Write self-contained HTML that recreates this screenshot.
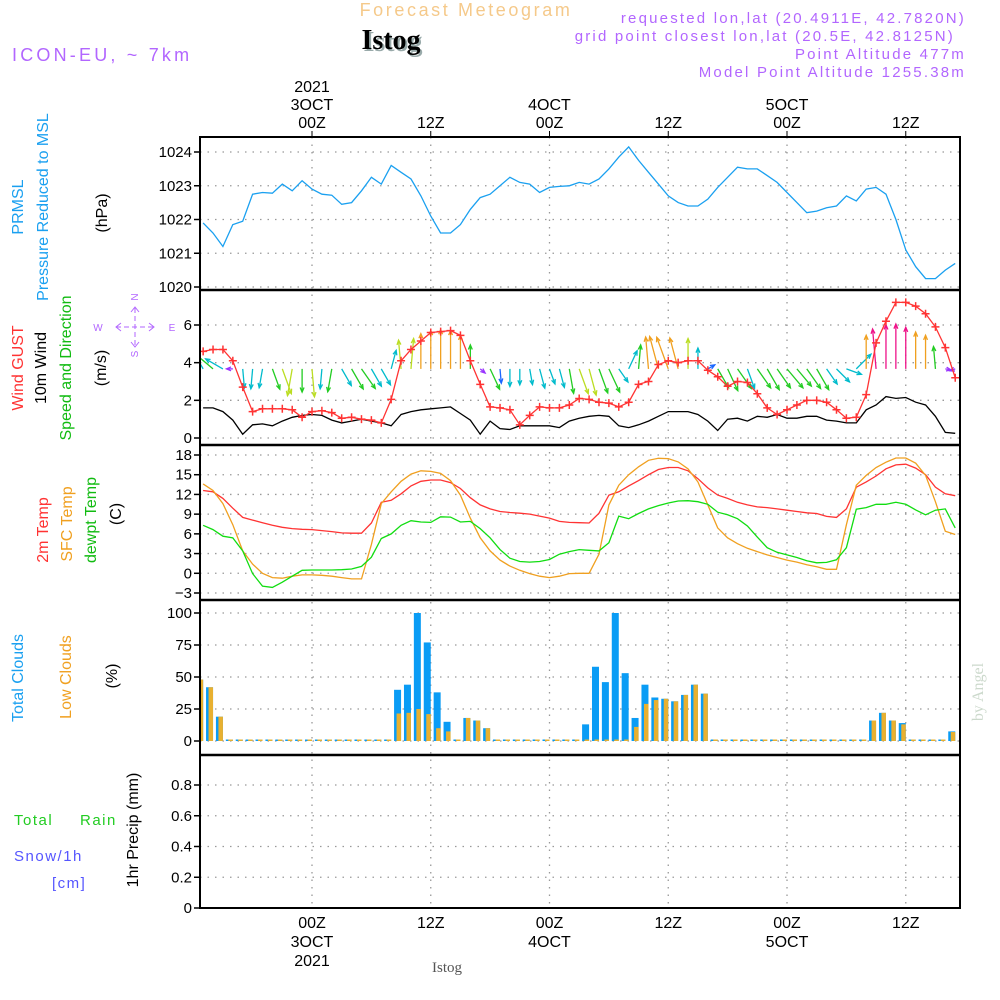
<!DOCTYPE html>
<html><head><meta charset="utf-8"><style>
html,body{margin:0;padding:0;background:#fff;}
svg{display:block;font-family:"Liberation Sans",sans-serif;}
</style></head><body>
<svg id="chart" width="1000" height="1000" viewBox="0 0 1000 1000" xmlns="http://www.w3.org/2000/svg">
<defs><clipPath id="plotclip"><rect x="201" y="137" width="758" height="771"/></clipPath></defs>
<g>
<text x="466" y="16" text-anchor="middle" font-size="18" fill="#f5c98a" letter-spacing="2.6">Forecast Meteogram</text>
<text x="393" y="51" text-anchor="middle" font-size="28" font-weight="bold" font-family="Liberation Serif,serif" fill="#9aa">Istog</text>
<text x="391" y="49" text-anchor="middle" font-size="28" font-weight="bold" font-family="Liberation Serif,serif" fill="#000">Istog</text>
<text x="12" y="61" font-size="18" fill="#b266ff" letter-spacing="3.2">ICON-EU, ~ 7km</text>
<g font-size="15" fill="#b266ff" text-anchor="end" letter-spacing="2.2">
<text x="966" y="23">requested lon,lat (20.4911E, 42.7820N)</text>
<text x="955" y="41">grid point closest lon,lat (20.5E, 42.8125N)</text>
<text x="966" y="59">Point Altitude 477m</text>
<text x="966" y="77">Model Point Altitude 1255.38m</text>
</g>
</g>
<g id="labels" font-size="15"></g>
<g id="plot"></g>
</svg>
<script>
// ---- data (hourly, starting 13Z 2 Oct -> hour -11 relative to 00Z 3 Oct) ----
const startHour = -11;
const pressure = [1021.9,1021.6,1021.2,1021.85,1021.95,1022.75,1022.8,1022.78,1023.05,1022.85,1023.15,1022.9,1022.75,1022.72,1022.45,1022.5,1022.85,1023.25,1023.05,1023.6,1023.4,1023.2,1022.7,1022.1,1021.6,1021.6,1021.85,1022.3,1022.65,1022.75,1023.0,1023.25,1023.1,1023.05,1022.8,1022.95,1022.98,1023.0,1023.1,1023.05,1023.2,1023.5,1023.85,1024.15,1023.75,1023.4,1023.05,1022.7,1022.5,1022.4,1022.4,1022.6,1022.95,1023.25,1023.55,1023.5,1023.5,1023.3,1023.1,1022.8,1022.5,1022.2,1022.25,1022.35,1022.4,1022.7,1022.55,1022.9,1022.95,1022.75,1022.0,1021.1,1020.6,1020.25,1020.25,1020.5,1020.7];
const gust = [4.6,4.7,4.7,4.1,2.7,1.4,1.55,1.55,1.55,1.5,1.1,1.4,1.45,1.35,1.05,1.1,1.0,0.95,0.8,2.05,4.1,4.7,5.15,5.6,5.65,5.7,5.45,4.1,2.85,1.65,1.6,1.5,0.7,1.2,1.65,1.6,1.6,1.75,2.1,2.05,1.9,1.85,1.65,1.9,2.85,3.0,3.9,4.1,4.0,4.1,4.1,3.6,3.25,2.75,3.0,2.95,2.35,1.6,1.25,1.5,1.75,2.0,2.0,1.9,1.5,1.05,1.1,2.3,5.05,6.2,7.2,7.2,7.0,6.6,5.9,4.8,3.2];
const wind10m = [1.6,1.6,1.4,0.95,0.2,0.7,0.75,0.65,0.9,1.1,1.2,1.25,1.2,0.95,0.8,0.9,1.0,0.9,0.8,0.65,1.25,1.4,1.5,1.55,1.6,1.65,1.3,0.95,0.2,0.9,0.5,0.45,0.65,0.65,0.65,0.65,0.55,0.9,1.05,1.15,1.2,1.15,0.65,0.55,0.7,0.9,1.15,1.4,1.4,1.4,1.25,0.9,0.4,1.0,1.05,0.9,1.15,1.1,1.25,1.05,1.05,1.15,1.15,0.95,0.9,0.8,0.8,1.5,1.75,2.2,2.1,2.15,1.9,1.75,1.15,0.3,0.25];
const windDir = [330,310,300,270,175,185,190,160,160,190,180,175,185,190,150,150,145,150,150,15,355,5,0,0,0,0,0,0,130,155,175,180,180,170,165,160,165,170,160,165,160,155,145,25,5,355,345,340,345,0,0,60,150,155,145,160,145,150,145,140,140,145,150,145,135,110,45,0,355,0,0,0,0,0,355,100,250];
const windSpd = [2.5,3,2.5,0.8,2.4,2.5,2.4,2.7,3.3,3.4,2.9,3.5,2.5,2.9,2.4,2.9,3.0,2.5,2.3,2.4,3.6,3.8,4.4,4.8,4.9,4.8,4.2,3.0,0.8,2.8,1.8,2.2,2.0,2.0,2.5,2.0,2.4,3.1,3.3,3.4,3.2,3.2,2.0,2.5,3.0,4.0,4.2,4.2,4.0,3.8,2.6,1.0,2.7,3.0,3.0,2.6,2.9,3.0,2.9,3.1,2.8,3.0,3.0,2.3,2.3,2.0,2.6,4.2,5.0,5.5,5.6,5.2,4.6,4.2,2.8,0.7,0.7];
const temp2m = [12.6,12.4,11.4,9.9,8.5,8.1,7.7,7.3,7.0,6.8,6.7,6.65,6.5,6.35,6.15,6.1,6.1,7.65,10.8,11.1,12.1,13.3,14.0,14.2,14.2,13.8,12.9,11.5,10.4,9.8,9.4,9.25,9.15,9.0,8.7,8.4,7.9,7.75,7.7,7.65,9.15,11.9,12.4,13.3,14.1,15.0,15.8,16.1,16.1,15.6,14.4,13.0,11.9,11.4,10.8,10.4,10.1,10.0,9.8,9.6,9.4,9.2,9.1,8.65,8.5,9.8,13.1,13.9,14.8,15.9,16.5,16.6,16.0,15.0,13.1,12.1,11.8];
const tempSfc = [13.6,12.6,10.6,7.4,3.4,1.4,0.0,-0.65,-0.75,-0.45,-0.25,-0.25,-0.3,-0.45,-0.65,-0.85,-0.85,4.4,10.6,12.4,14.0,15.1,15.6,15.5,15.2,14.1,11.9,8.4,5.4,3.4,2.0,1.1,0.45,-0.05,-0.45,-0.65,-0.45,-0.05,0.0,0.0,2.9,10.4,13.4,15.0,16.2,17.2,17.5,17.45,16.95,15.9,13.9,10.4,6.9,5.4,4.5,3.8,3.3,2.8,2.4,2.0,1.7,1.3,1.0,0.6,0.6,7.4,13.4,14.9,16.1,16.9,17.55,17.55,16.75,14.9,10.9,6.4,5.9];
const dewpt = [7.3,6.65,5.65,5.4,3.4,-0.05,-1.95,-2.15,-1.35,-0.45,0.45,0.5,0.5,0.5,0.55,0.65,1.05,2.45,5.3,6.0,7.3,8.0,7.8,7.75,8.6,8.55,7.8,7.9,6.8,5.4,3.6,2.3,1.8,1.7,1.8,2.1,2.9,3.3,3.6,3.5,3.4,4.65,8.7,8.3,9.1,9.8,10.3,10.7,11.0,11.05,10.9,10.5,9.3,8.9,8.3,7.2,5.5,3.9,3.2,2.8,2.4,1.9,1.6,1.65,2.05,3.9,9.75,10.0,10.5,10.5,10.8,10.5,9.65,8.9,9.6,9.8,6.9];
const totalClouds = [48,42,19,0,0,0,0,0,1,0,0,0,0,0,0,0,0,0,0,0,40,44,100,77,38,15,0,18,16,10,0,0,0,0,0,0,0,0,0,13,58,46,100,53,18,44,34,33,31,36,44,37,0,0,0,0,0,0,0,0,0,0,0,0,0,0,0,0,16,22,16,14,0,0,0,0,7.5];
const lowClouds = [48,42,19,0,0,0,0,0,1,0,0,0,0,0,0,0,0,0,0,0,21.5,22,25,21,10,7.5,0,18,16,10,0,0,0,0,0,0,0,0,0,0,0,0,0,0,11,29,32,33,31,36,44,37,0,0,0,0,0,0,0,0,0,0,0,0,0,0,0,0,16,22,16,13,0,0,0,0,7];
const precip = new Array(77).fill(0);
const pressTicks = [1020,1021,1022,1023,1024];
const windTicks = [0,2,4,6];
const tempTicks = [-3,0,3,6,9,12,15,18];
const cloudTicks = [0,25,50,75,100];
const precipTicks = [0,0.2,0.4,0.6,0.8];
const timeTicks = [0,12,24,36,48,60];
const topLabels = [["2021","3OCT","00Z"],["12Z"],["4OCT","00Z"],["12Z"],["5OCT","00Z"],["12Z"]];
const bottomLabels = [["00Z","3OCT","2021"],["12Z"],["00Z","4OCT"],["12Z"],["00Z","5OCT"],["12Z"]];

// ---- layout ----
const NS="http://www.w3.org/2000/svg";
const X0=200,X1=960;
const xh=h=>312+h*9.896;
const lin=(v0,y0,v1,y1)=>v=>y0+(v-v0)*(y1-y0)/(v1-v0);
const yP=lin(1020,287,1024,152), yW=lin(0,438,6,325), yT=lin(-3,593,18,455), yC=lin(0,741,100,613), yR=lin(0,908,0.8,785);
const plot=document.getElementById('plot');
function mk(tag,attrs,parent){const e=document.createElementNS(NS,tag);for(const k in attrs)e.setAttribute(k,attrs[k]);(parent||plot).appendChild(e);return e;}

// grids
const grid=mk('g',{stroke:'#999','stroke-width':1.3,'stroke-dasharray':'1.5 6'});


timeTicks.forEach(h=>{mk('line',{x1:xh(h),x2:xh(h),y1:137,y2:908},grid);});
function hgrid(ticks,yf,fmt,name){
  const g=mk('g',{});
  
  
  ticks.forEach(v=>{
    const y=yf(v);
    mk('line',{x1:X0,x2:X1,y1:y,y2:y},grid);
    mk('line',{x1:X0-6,x2:X0,y1:y,y2:y,stroke:'#000','stroke-width':1.5},g);
    const t=mk('text',{x:X0-8,y:y+5,'text-anchor':'end','font-size':15,fill:'#000'},g);
    t.textContent=fmt(v);
  });
}
hgrid(pressTicks,yP,v=>v,'pressure');
hgrid(windTicks,yW,v=>v,'wind');
hgrid(tempTicks,yT,v=>v<0?'\u2212'+(-v):v,'temp');
hgrid(cloudTicks,yC,v=>v,'cloud');
hgrid(precipTicks,yR,v=>v===0?'0':v.toFixed(1),'precip');

const clipG=mk('g',{'clip-path':'url(#plotclip)'});
function line(arr,yf,color,name,w){
  const pts=arr.map((v,i)=>xh(startHour+i).toFixed(1)+','+yf(v).toFixed(1)).join(' ');
  const p=mk('polyline',{points:pts,fill:'none',stroke:color,'stroke-width':w||1.3},clipG);
  
  
  return p;
}
// pressure
line(pressure,yP,'#1aa0f0','pressure-line');
// wind arrows
function arrowColor(s){if(s<1)return '#9933ff';if(s<2)return '#1a66ff';if(s<2.7)return '#00bbcc';if(s<3.3)return '#22cc22';if(s<4)return '#bbdd22';if(s<5)return '#f0a020';return '#ee1188';}
const arrows=mk('g',{'stroke-width':1.3,fill:'none'},clipG);


windDir.forEach((d,i)=>{
  const s=windSpd[i];
  const bx=xh(startHour+i), by=yW(3.67);
  const L=s*8, a=d*Math.PI/180;
  const ex=bx+Math.sin(a)*L, ey=by-Math.cos(a)*L;
  const c=arrowColor(s);
  const g=mk('g',{stroke:c},arrows);
  
  
  mk('line',{x1:bx,y1:by,x2:ex,y2:ey},g);
  const h1=a+Math.PI-0.4,h2=a+Math.PI+0.4,hl=5;
  mk('polyline',{points:`${ex+Math.sin(h1)*hl},${ey-Math.cos(h1)*hl} ${ex},${ey} ${ex+Math.sin(h2)*hl},${ey-Math.cos(h2)*hl}`},g);
});
line(wind10m,yW,'#000','wind-10m-line');
line(gust,yW,'#ff3333','wind-gust-line');
const gm=mk('g',{stroke:'#ff3333','stroke-width':1.5},clipG);


gust.forEach((v,i)=>{const x=xh(startHour+i),y=yW(v);mk('path',{d:`M${x-4},${y}h8M${x},${y-4}v8`},gm);});
// temps
line(temp2m,yT,'#ff3333','temp-2m-line');
line(tempSfc,yT,'#f0a020','temp-sfc-line');
line(dewpt,yT,'#11dd11','dewpoint-line');
// clouds
const cg=mk('g',{},clipG);


totalClouds.forEach((v,i)=>{
  const x=xh(startHour+i)-3.5;
  const y0=yC(0);
  const b=mk('rect',{x:x-3.5,y:Math.min(yC(v),y0-1.5),width:7,height:Math.max(y0-yC(v),1.5),fill:'#0a9cf5'},cg);
  
  
  const l=lowClouds[i];
  const o=mk('rect',{x:x-1,y:Math.min(yC(l),y0-1.5),width:4.5,height:Math.max(y0-yC(l),1.5),fill:'#e8b030'},cg);
  
  
});
// precip
const pl=line(precip,yR,'#000','precip-line',1.5);
pl.setAttribute('stroke-dasharray','5 2');

// frames
const fr=mk('g',{fill:'none',stroke:'#000'});


mk('rect',{x:X0,y:137,width:X1-X0,height:771,'stroke-width':2},fr);
[290,445,600,755].forEach(y=>mk('line',{x1:X0,x2:X1,y1:y,y2:y,'stroke-width':2.5},fr));

// time labels
const ta=mk('g',{'font-size':16,'text-anchor':'middle',fill:'#000'});


timeTicks.forEach((h,i)=>{
  const L=topLabels[i];
  L.forEach((s,j)=>{const t=mk('text',{x:xh(h),y:128-(L.length-1-j)*18},ta);t.textContent=s;});
  mk('line',{x1:xh(h),x2:xh(h),y1:131,y2:137,stroke:'#000'},ta);
});
const ba=mk('g',{'font-size':16,'text-anchor':'middle',fill:'#000'});


timeTicks.forEach((h,i)=>{
  bottomLabels[i].forEach((s,j)=>{const t=mk('text',{x:xh(h),y:928+j*19},ba);t.textContent=s;});
});
</script>
<script>
const lab=document.getElementById('labels');
const items=[
 ['prmsl-label','PRMSL',18,207,'#1aa0f0'],
 ['pressure-title','Pressure Reduced to MSL',43,207,'#1aa0f0'],
 ['hpa-unit','(hPa)',102,213,'#000'],
 ['wind-gust-label','Wind GUST',18,368,'#ff3333'],
 ['wind-10m-label','10m Wind',41,368,'#000'],
 ['speed-direction-label','Speed and Direction',66,368,'#11bb11'],
 ['ms-unit','(m/s)',101,368,'#000'],
 ['temp-2m-label','2m Temp',43,530,'#ff3333'],
 ['sfc-temp-label','SFC Temp',67,524,'#f0a020'],
 ['dewpt-label','dewpt Temp',91,520,'#11bb11'],
 ['c-unit','(C)',116,514,'#000'],
 ['total-clouds-label','Total Clouds',18,678,'#1aa0f0'],
 ['low-clouds-label','Low Clouds',66,677,'#f0a020'],
 ['pct-unit','(%)',112,676,'#000'],
 ['precip-title','1hr Precip (mm)',133,830,'#000']
];
items.forEach(([n,s,x,y,c])=>{
  const t=document.createElementNS("http://www.w3.org/2000/svg",'text');
  t.setAttribute('x',x);t.setAttribute('y',y);t.setAttribute('fill',c);
  t.setAttribute('text-anchor','middle');t.setAttribute('font-size','16');
  t.setAttribute('transform',`rotate(-90 ${x} ${y}) translate(0 5)`);
  
  
  t.textContent=s;lab.appendChild(t);
});
const svg=document.getElementById('chart');
const extra=`
<g fill="#b266ff" font-size="10" stroke="none">
<text x="135" y="300" text-anchor="middle" transform="rotate(-90 135 297)">N</text>
<text x="98" y="331" text-anchor="middle">W</text>
<text x="172" y="331" text-anchor="middle">E</text>
<text x="135" y="357" text-anchor="middle" transform="rotate(-90 135 354)">S</text>
<path d="M116,327h38M135,308v38" stroke="#b266ff" stroke-dasharray="5 3" fill="none"/>
<path d="M121,323l-5,4l5,4M149,323l5,4l-5,4M131,312l4,-5l4,5M131,342l4,5l4,-5" stroke="#b266ff" fill="none"/>
</g>
<g font-size="15" letter-spacing="1.5">
<text x="14" y="825" fill="#22cc22">Total</text>
<text x="80" y="825" fill="#22cc22">Rain</text>
<text x="14" y="861" fill="#5555ff">Snow/1h</text>
<text x="52" y="888" fill="#5555ff">[cm]</text>
</g>
<text x="447" y="972" text-anchor="middle" font-size="15" font-family="Liberation Serif,serif" fill="#555">Istog</text>
<text x="983" y="692" text-anchor="middle" font-size="16" font-family="Liberation Serif,serif" fill="#ccd9cc" transform="rotate(-90 983 692)">by Angel</text>`;
svg.insertAdjacentHTML('beforeend',extra);
</script>
</body></html>
